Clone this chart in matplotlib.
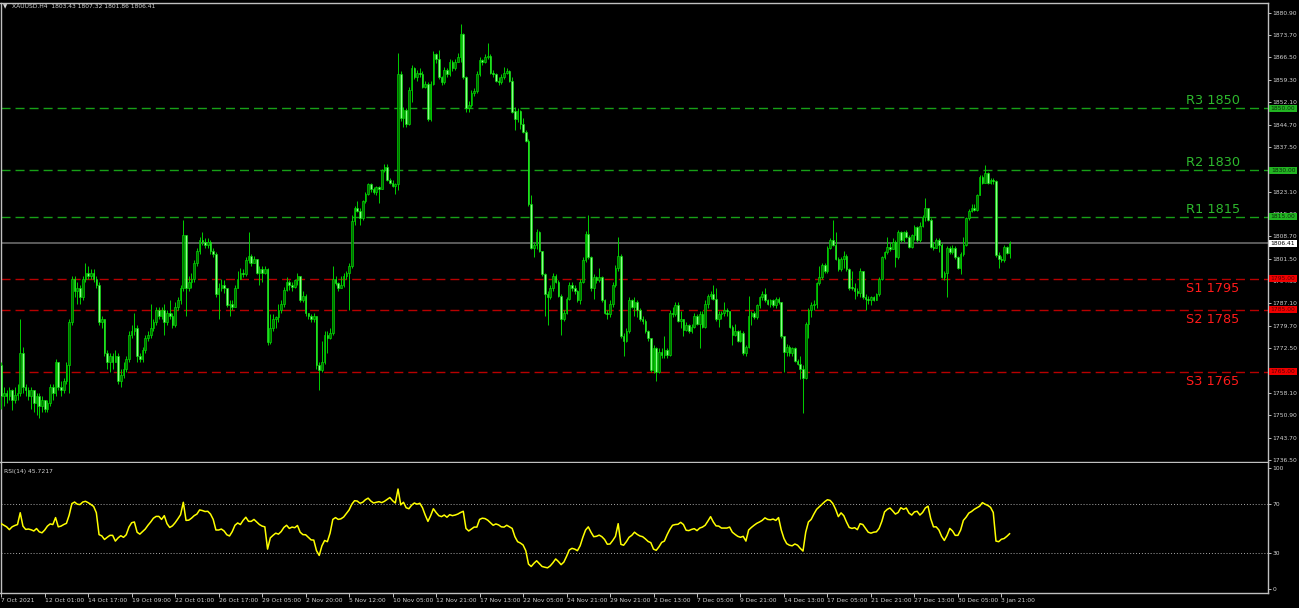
import matplotlib
matplotlib.use("Agg")
import matplotlib.pyplot as plt
import matplotlib.transforms as mtransforms
from matplotlib.patches import Rectangle
import numpy as np

plt.rcParams.update({
    "font.family": ["DejaVu Sans"],
    "figure.facecolor": "black",
    "axes.facecolor": "black",
    "savefig.facecolor": "black",
})

# XAUUSD H4 bars, 7 Oct 2021 -> 4 Jan 2022
symbol = "XAUUSD.H4"
first_open = 1767.0
closes = [
    1757, 1758, 1757, 1759, 1756, 1757.5, 1758, 1771, 1760, 1759,
    1757, 1759, 1755, 1757, 1754, 1756, 1753, 1755, 1760, 1758,
    1768, 1760, 1759, 1762, 1767, 1781, 1795, 1791, 1792, 1789,
    1795, 1797, 1796, 1797, 1795, 1793, 1781, 1782, 1771, 1768,
    1770, 1768, 1770, 1762, 1764, 1766, 1769, 1777, 1778, 1779,
    1770, 1769, 1772, 1776, 1777, 1779, 1781, 1785, 1783, 1785,
    1781, 1784, 1783, 1780, 1786, 1788, 1792, 1809, 1792, 1794,
    1795, 1800, 1804, 1807.5, 1807, 1806, 1807, 1804, 1803, 1790,
    1792, 1793, 1792, 1786.5, 1787, 1786, 1792, 1795, 1797, 1796.5,
    1801, 1802.5, 1800, 1801.5, 1797, 1798, 1797, 1798, 1774.5, 1779,
    1782, 1782.5, 1785, 1787, 1791.5, 1794, 1793, 1792.5, 1794.5, 1796,
    1788, 1789.5, 1784, 1783, 1782, 1783, 1767, 1765.5, 1768, 1777,
    1776, 1777.5, 1795, 1793.5, 1792, 1793, 1796, 1797, 1799, 1813.5,
    1818, 1817, 1814.5, 1820, 1822.5, 1825.5, 1824, 1823, 1824.5, 1824,
    1830, 1831, 1827, 1826, 1825, 1825.5, 1861, 1847, 1849.5, 1845,
    1856, 1863, 1860, 1861.5, 1861, 1857, 1858, 1846.5, 1858, 1867.5,
    1866, 1860, 1858.5, 1862.5, 1861, 1865, 1863, 1865, 1866.5, 1874,
    1860, 1850, 1851, 1855, 1855.5, 1861, 1865.5, 1865, 1866.5, 1867,
    1861.5, 1861, 1859, 1858.5, 1860, 1861.5, 1862, 1859, 1849, 1846.5,
    1849, 1845, 1842.5, 1839.5, 1819, 1805, 1806, 1810, 1804, 1796.5,
    1790, 1789, 1792, 1796, 1794, 1789.5, 1782, 1784, 1788.5, 1793,
    1792, 1791, 1788, 1794, 1801, 1809.5, 1802, 1792, 1795.5, 1794.5,
    1795.5, 1788, 1784, 1783.5, 1787, 1793, 1798.5, 1802.5, 1776.5, 1775,
    1778, 1788, 1786, 1787.5, 1785, 1782, 1781.5, 1778, 1776, 1765.5,
    1772.5, 1765, 1771.5, 1770.5, 1772, 1770.5, 1784, 1783.5, 1786.5, 1781.5,
    1782, 1778.5, 1780, 1778, 1779.5, 1783, 1780.5, 1783.5, 1779.5, 1787,
    1789.5, 1790, 1788.5, 1782, 1783.5, 1784, 1785, 1784.5, 1779.5, 1777,
    1778, 1775, 1777.5, 1771, 1773, 1783, 1784, 1782.5, 1786.5, 1789,
    1790, 1788, 1787, 1788, 1786.5, 1788.5, 1787.5, 1776.5, 1771.5, 1773,
    1771, 1772.5, 1768.5, 1767.5, 1766, 1763, 1780.5, 1785, 1786.5, 1787,
    1793.5, 1795.5, 1799.5, 1797.5, 1805, 1807.5, 1806, 1801.5, 1798, 1801.5,
    1802.5, 1798, 1792, 1792, 1791, 1790.5, 1797.5, 1789, 1788.5, 1788,
    1789, 1788.2, 1790, 1795, 1802, 1803.5, 1805.3, 1804.5, 1807, 1802,
    1810, 1807.5, 1810, 1808.6, 1805.3, 1809, 1811.8, 1807.5, 1812, 1815,
    1817.7, 1814, 1805.3, 1805, 1807.5, 1806, 1795.7, 1796.7, 1805, 1803.5,
    1805, 1802, 1798.5, 1803, 1806, 1814.5, 1817, 1818, 1817.2, 1822,
    1828, 1826, 1829, 1826, 1827, 1826.5, 1802.7, 1801.5, 1801, 1805.3,
    1803.43, 1806.41,
]
highs = [
    1768, 1760, 1759, 1760, 1759.5, 1760, 1761, 1782, 1773, 1761,
    1760, 1760, 1759, 1758, 1758, 1757, 1756, 1756, 1761, 1761,
    1769, 1768, 1762, 1763, 1768, 1782, 1796, 1796, 1794, 1793,
    1796, 1800, 1799, 1798, 1798, 1796, 1794, 1783, 1782, 1772,
    1771, 1771, 1772, 1771, 1766, 1768, 1770, 1778, 1780, 1784,
    1780, 1771, 1773, 1777, 1778, 1787, 1782, 1786, 1786, 1786,
    1787, 1785, 1788, 1784, 1787.5, 1789, 1793, 1814, 1809, 1796,
    1797, 1801, 1805, 1808.5, 1810, 1808, 1808, 1807.5, 1805, 1803.5,
    1793.5, 1795, 1794.5, 1792, 1788, 1788, 1793, 1797.5, 1798.5, 1798,
    1802, 1810, 1803, 1802.5, 1801.5, 1799, 1799, 1799, 1798.5, 1783.5,
    1783.5, 1783, 1787, 1788, 1792.5, 1795.5, 1794.5, 1794, 1795, 1797,
    1796, 1791, 1790, 1784, 1783.5, 1784, 1783, 1768, 1775, 1778,
    1778, 1779, 1799, 1796, 1794, 1796, 1797, 1797.5, 1800, 1815.5,
    1818.5, 1820, 1818, 1820.5, 1823, 1826, 1826, 1824.5, 1825, 1825,
    1830.5, 1832, 1832, 1827.5, 1827, 1826, 1868, 1862, 1850.5, 1850,
    1857, 1864, 1863.5, 1862.5, 1863, 1862, 1859, 1858.5, 1859, 1868.5,
    1868, 1869, 1860.5, 1863.5, 1863, 1866, 1865.5, 1866, 1868, 1877.3,
    1874.5, 1860.5, 1852.5, 1856, 1856.5, 1862, 1866.5, 1866, 1867.5, 1871,
    1867.5, 1862.5, 1861.5, 1860, 1861, 1863.5, 1863, 1862.5, 1860, 1850.5,
    1850, 1849.5, 1847, 1843, 1840, 1822, 1807, 1811, 1810.5, 1804,
    1797, 1791, 1793, 1797, 1796.5, 1794.5, 1790, 1785, 1789, 1794,
    1794, 1793, 1791.5, 1795, 1802, 1810.5, 1815.5, 1802.5, 1796.5, 1796,
    1798.5, 1796, 1788.5, 1785, 1788, 1794, 1799.5, 1808.5, 1803, 1777.5,
    1779, 1789, 1788.5, 1789, 1788, 1785.5, 1783, 1782, 1778.5, 1776,
    1773.5, 1773, 1772.5, 1772.5, 1776.5, 1772.5, 1785, 1786, 1787.5, 1787.5,
    1784.5, 1782, 1781, 1780.5, 1780.5, 1784, 1783.5, 1784.5, 1784.5, 1788,
    1790, 1791, 1793, 1792, 1784.5, 1784.5, 1787.5, 1785.5, 1784.5, 1780,
    1780.5, 1778.5, 1778.5, 1778, 1773.5, 1789.5, 1784.5, 1784.5, 1787, 1789.5,
    1791, 1792, 1788.5, 1788.5, 1788.5, 1789, 1789, 1787.5, 1776.5, 1774,
    1773.5, 1773, 1773, 1769, 1770, 1767, 1781, 1785.5, 1787.5, 1788,
    1794, 1799, 1800, 1800, 1805.5, 1808, 1814, 1810, 1802, 1802,
    1804, 1803, 1798.5, 1797.5, 1793.5, 1792, 1798.5, 1797.5, 1790, 1789.5,
    1789.5, 1789.5, 1790.5, 1795.5, 1802.5, 1804, 1808.5, 1807, 1808, 1807.5,
    1810.7, 1810.5, 1810.5, 1810.7, 1809, 1809.5, 1812.5, 1812, 1813.4, 1815.5,
    1821, 1818, 1814.5, 1806.8, 1808, 1808, 1806.5, 1797.5, 1805.5, 1805.5,
    1806, 1805.5, 1802.5, 1803.5, 1808.6, 1815, 1817.5, 1819, 1819, 1822.5,
    1828.5, 1828.5, 1831.7, 1829.5, 1827.5, 1827.5, 1827, 1803.5, 1802.5, 1806,
    1805.5, 1807.32,
]
lows = [
    1753, 1754, 1755, 1756, 1752.5, 1755, 1756, 1757, 1758, 1757,
    1756, 1753, 1752, 1751, 1750, 1752, 1752, 1752, 1754, 1756,
    1757, 1759, 1757, 1758, 1761, 1758, 1780, 1789, 1787, 1787,
    1788, 1794, 1795, 1795, 1794, 1792, 1780, 1779, 1770, 1766,
    1765, 1766, 1768, 1761, 1760, 1763, 1765, 1768, 1776, 1777,
    1768, 1768, 1768, 1771, 1775, 1776, 1778, 1780, 1782, 1782,
    1777, 1780, 1782, 1779, 1779.5, 1785, 1787, 1791, 1783, 1791,
    1792, 1794, 1799, 1803, 1806, 1805, 1805, 1803, 1802, 1789,
    1782, 1791, 1790.5, 1786, 1783, 1785, 1786, 1792, 1795, 1795.5,
    1796, 1800, 1799, 1800, 1796.5, 1793, 1794, 1796.5, 1773.5, 1774,
    1778, 1779, 1781, 1784, 1786, 1791, 1791.5, 1791, 1792, 1793,
    1787.5, 1787.5, 1783, 1782, 1781, 1781, 1766, 1759, 1765, 1767.5,
    1771, 1775.5, 1777, 1793, 1791, 1792, 1792.5, 1795, 1785, 1798.5,
    1812.5, 1816.5, 1812.3, 1814, 1819.5, 1822, 1823, 1822.5, 1822, 1819.3,
    1824, 1829.5, 1826.5, 1825.5, 1824.5, 1822.5, 1823.5, 1846, 1844, 1844,
    1844.5, 1852, 1859.5, 1859, 1860, 1856.5, 1856.5, 1846, 1846, 1857.5,
    1864.5, 1859.5, 1857.5, 1858, 1860, 1860.5, 1862, 1862.5, 1865, 1865,
    1859.5, 1849, 1849, 1850.5, 1854, 1855, 1860.5, 1864, 1864.5, 1866,
    1861, 1860, 1858.5, 1857.5, 1858, 1859.5, 1861, 1858.5, 1848.5, 1843,
    1845.5, 1843.5, 1842, 1839, 1818.5, 1804.5, 1802, 1804.5, 1803.5, 1796,
    1783, 1780, 1788.5, 1791, 1793.5, 1789, 1777, 1781.5, 1783.5, 1788,
    1791, 1790, 1787.5, 1787, 1793.5, 1800.5, 1801.5, 1791, 1788.5, 1793.5,
    1794, 1787.5, 1783.5, 1782, 1782.5, 1786, 1792.5, 1797.5, 1776, 1770,
    1774.5, 1777.5, 1785.5, 1783, 1782.5, 1781.5, 1780.5, 1777.5, 1775, 1765,
    1764.5, 1762, 1764.5, 1769.5, 1769.5, 1769.5, 1770, 1782.5, 1783, 1781,
    1779, 1776.5, 1778, 1777.5, 1777.5, 1779, 1780, 1772.5, 1779, 1779,
    1785.5, 1788.5, 1788, 1781.5, 1779.5, 1782, 1783, 1783, 1779, 1773.5,
    1776.5, 1774.5, 1774.5, 1770.5, 1770, 1772.5, 1780, 1782, 1782, 1785.5,
    1788, 1787.5, 1786.5, 1786, 1786, 1785.5, 1787, 1776, 1765, 1770,
    1770, 1770, 1768, 1767, 1762.5, 1751.5, 1762.5, 1776, 1782.5, 1785,
    1785.5, 1793, 1795, 1797, 1797, 1804.5, 1805.5, 1801, 1797.5, 1797.5,
    1798.5, 1797.5, 1791.5, 1791.5, 1788.5, 1789.5, 1789, 1788.5, 1785, 1787,
    1786.5, 1787.8, 1788, 1789.5, 1794.5, 1801.5, 1803, 1804, 1804.5, 1798.9,
    1801.5, 1807, 1807, 1808, 1805, 1805, 1807.5, 1807, 1807, 1811.8,
    1813.5, 1813.5, 1805, 1804.3, 1804.8, 1803.5, 1795.2, 1794.5, 1789.2, 1803,
    1803, 1801.5, 1798, 1796.5, 1802.5, 1805.5, 1814, 1816.5, 1816.8, 1817,
    1822, 1825.5, 1825.8, 1825.5, 1825.5, 1825.5, 1802, 1798.4, 1800.5, 1800.5,
    1803, 1801.86,
]
rsi14 = [
    54, 52.7, 51.4, 49.1, 51.4, 52.5, 53.3, 63, 52, 49.3,
    49.6, 49, 48, 50, 47.3, 46.5, 48.8, 52, 53.8, 53.3,
    59, 51.4, 52, 53.3, 54.3, 61, 70.5, 71.8, 70, 69.7,
    71.8, 72.4, 71.3, 69.7, 68.2, 63, 45, 44, 41, 42.8,
    44.4, 44.4, 39.7, 42.3, 44.1, 42.8, 44.9, 51.2, 54.8, 55.4,
    47, 45.4, 47.5, 49.6, 52.7, 55.4, 58.5, 60, 60, 57.5,
    60.6, 54, 50.9, 52.2, 54.8, 58, 61.4, 71.6, 56.7, 56.9,
    58.5, 60.6, 61.9, 65.3, 64.8, 64, 64.2, 61.9, 57.5, 48.8,
    48.8, 49.6, 48, 44.9, 43.9, 47.5, 52.7, 54.6, 53.3, 56.7,
    59.3, 55.9, 55.9, 57.5, 55.4, 53.3, 52, 51.4, 33.1, 42.3,
    44.4, 46.2, 45.4, 47.5, 50.9, 52.7, 50.1, 51.2, 50.7, 52.5,
    47, 45, 44.9, 42.8, 40.7, 40.5, 31.8, 27.9, 35.8, 40.2,
    39.2, 46.2, 57.5, 59, 57.5, 58, 59.5, 62.4, 65.3, 70,
    72.9, 72.6, 70.8, 71.6, 73.7, 75, 72.6, 71, 71.6, 72.1,
    71.3, 72.4, 73.9, 75.5, 72.9, 71, 82.5, 69.5, 71.6, 67.1,
    66.3, 69.2, 71, 70, 70.8, 67.1, 61.1, 55.9, 60.6, 66.3,
    63.2, 60.6, 59.8, 61.1, 59.3, 61.4, 60.6, 61.1, 61.9, 63.2,
    64.2, 50.1, 48, 49.6, 51.2, 51.2, 57.5, 58.5, 58.2, 56.9,
    54.8, 52.7, 53.8, 53, 51.4, 51.2, 52.7, 51.4, 50.1, 43.3,
    39.2, 38.1, 36.5, 31.8, 20.8, 18.8, 21.4, 23.5, 21.1, 18.8,
    18.2, 17.7, 19.3, 21.9, 25, 22.9, 20.3, 22.4, 27.1, 32.4,
    33.7, 33.1, 31.8, 35.8, 42.8, 48.8, 51.4, 47, 43.3, 43.6,
    44.6, 43.3, 41, 37.1, 37.3, 40.2, 43.6, 54, 37, 36.3,
    39.2, 42.8, 44.4, 47, 45.2, 43.9, 43.3, 41.5, 39.4, 38.4,
    33.1, 32.1, 35, 38.6, 39.7, 44.9, 49.3, 52.7, 53.3, 53.5,
    55.1, 53.3, 48.6, 48.3, 49.3, 49.9, 48.3, 50.4, 51.2, 52.7,
    56.1, 59.8, 55.4, 52.2, 52, 50.4, 50.4, 50.4, 51.2, 47,
    45.2, 43.6, 42.8, 43.6, 39.7, 48.8, 50.9, 52.7, 54.3, 55.4,
    56.7, 58.8, 57.5, 57.2, 57.8, 56.7, 59, 48.8, 41.8, 37.6,
    36.3, 35.8, 37.3, 36.3, 33.7, 31.5, 47, 55.4, 57.5, 61.9,
    65.8, 67.9, 70, 72.1, 73.7, 73.1, 70.5, 65.8, 59.8, 62.9,
    60.6, 55.4, 50.9, 50.1, 50.7, 49.1, 54, 53.3, 50.1, 47,
    46.2, 47, 47.3, 50.1, 55.9, 63.7, 65.8, 66.9, 64.5, 61.9,
    63.2, 67.1, 65.8, 66.9, 62.7, 61.1, 63.7, 64.2, 61.1, 63.2,
    66.9, 68.4, 58, 51.4, 51.4, 48.8, 43.6, 40.2, 44.4, 50.1,
    48, 44.4, 44.4, 48.8, 56.7, 59.3, 62.7, 64, 65.8, 67.1,
    68.4, 71.3, 70, 69, 67.4, 63.2, 39.7, 39.2, 41.2, 41.8,
    43.6, 45.7217,
]

level_names = ["R3", "R2", "R1", "S1", "S2", "S3"]
level_prices = [1850, 1830, 1815, 1795, 1785, 1765]
last_bar = [1803.43, 1807.32, 1801.86, 1806.41]
price_ticks = [1880.9, 1873.7, 1866.5, 1859.3, 1852.1, 1844.7, 1837.5, 1830.3,
               1823.1, 1815.9, 1808.7, 1801.5, 1794.3, 1787.1, 1779.7, 1772.5,
               1765.3, 1758.1, 1750.9, 1743.7, 1736.5]
rsi_ticks = [0, 30, 70, 100]
time_labels = ["7 Oct 2021", "12 Oct 01:00", "14 Oct 17:00", "19 Oct 09:00",
               "22 Oct 01:00", "26 Oct 17:00", "29 Oct 05:00", "2 Nov 20:00",
               "5 Nov 12:00", "10 Nov 05:00", "12 Nov 21:00", "17 Nov 13:00",
               "22 Nov 05:00", "24 Nov 21:00", "29 Nov 21:00", "2 Dec 13:00",
               "7 Dec 05:00", "9 Dec 21:00", "14 Dec 13:00", "17 Dec 05:00",
               "21 Dec 21:00", "27 Dec 13:00", "30 Dec 05:00", "3 Jan 21:00"]
bars_per_label = 16

assert len(closes) == len(highs) == len(lows) == len(rsi14)

W, H = 1299, 608
fig = plt.figure(figsize=(W / 100, H / 100), dpi=100)


def px_axes(left, top, right, bottom):
    return fig.add_axes([left / W, 1 - bottom / H, (right - left) / W, (bottom - top) / H])


ax = px_axes(0.5, 3, 1267.5, 461.5)
ax_rsi = px_axes(0.5, 463, 1267.5, 593)

c = np.array(closes, dtype=float)
h = np.array(highs, dtype=float)
l = np.array(lows, dtype=float)
o = np.r_[first_open, c[:-1]]
x = np.arange(len(c))

grey = "#c0c0c0"
label_c = "#d4d4d4"
small = 4.3

# candles
bull = c > o
body_lo = np.minimum(o, c)
body_h = np.maximum(np.abs(c - o), 0.3)
ax.vlines(x, l, h, color="#00d000", lw=0.7, zorder=3)
ax.bar(x[bull], body_h[bull], bottom=body_lo[bull], width=0.6,
       color="#007000", edgecolor="#00e000", lw=0.45, zorder=4)
ax.bar(x[~bull], body_h[~bull], bottom=body_lo[~bull], width=0.6,
       color="#8cff8c", edgecolor="#00e000", lw=0.45, zorder=4)

ax.set_xlim(-0.26, 465.9)
ax.set_ylim(1736.0, 1884.03)
ax_rsi.set_xlim(-0.26, 465.9)
ax_rsi.set_ylim(-3.0, 103.9)

blend = mtransforms.blended_transform_factory(ax.transAxes, ax.transData)


def tag(axis, tr, y, text, fc, tc, h_units):
    axis.add_patch(Rectangle((1.0015, y - h_units / 2), 0.0216, h_units, transform=tr,
                             fc=fc, ec="none", clip_on=False, zorder=6))
    axis.text(1.0015 + 0.0108, y, text, transform=tr, ha="center", va="center",
              fontsize=small, color=tc, clip_on=False, zorder=7)


# current price line
ax.axhline(last_bar[3], color="#6a6a6a", lw=1.2, zorder=2)

for name, p in zip(level_names, level_prices):
    resist = name.startswith("R")
    line_c = "#17a017" if resist else "#b80000"
    text_c = "#2db82d" if resist else "#ff1a1a"
    ax.axhline(p, color=line_c, lw=1, ls=(0, (6.5, 3.6)), zorder=2)
    ax.annotate(f"{name} {p}", xy=(0.9357, p), xycoords=blend,
                xytext=(0, 2.9 if resist else -9.3), textcoords="offset points",
                va="baseline", ha="left", fontsize=9.3, color=text_c, zorder=5)
    tag(ax, blend, p, f"{p:.2f}", "#22b422" if resist else "#f00000",
        "#0b2a0b" if resist else "#5a0000", 2.36)

tag(ax, blend, last_bar[3], f"{last_bar[3]:.2f}", "white", "black", 2.36)

# RSI panel
ax_rsi.plot(x, rsi14, color="#ffff00", lw=1.1, zorder=3)
for v in (30, 70):
    ax_rsi.axhline(v, color="#a8a8a8", lw=0.7, ls=(0, (1, 2)), zorder=2)
ax_rsi.text(0.003, 0.955, f"RSI(14) {rsi14[-1]:.4f}", transform=ax_rsi.transAxes,
            ha="left", va="top", fontsize=small, color=label_c)

# axes cosmetics
for a in (ax, ax_rsi):
    for s in a.spines.values():
        s.set_color(grey)
        s.set_linewidth(1)
    a.yaxis.tick_right()
    a.tick_params(axis="y", colors=grey, labelcolor=label_c, labelsize=small,
                  length=2.2, width=0.7, pad=1.5)
ax_rsi.spines["top"].set_visible(False)

ax.set_yticks(price_ticks)
ax.set_yticklabels([f"{t:.2f}" for t in price_ticks])
ax.set_xticks([])

ax_rsi.set_yticks(rsi_ticks)
ax_rsi.set_yticklabels([str(t) for t in rsi_ticks])

tick_pos = np.arange(len(time_labels)) * bars_per_label
ax_rsi.set_xticks(tick_pos)
ax_rsi.set_xticklabels(time_labels)
ax_rsi.tick_params(axis="x", colors=grey, labelcolor=label_c, labelsize=small,
                   length=2.8, width=0.7, pad=0.8, direction="out")
for t in ax_rsi.get_xticklabels():
    t.set_ha("left")

# header
fig.text(3 / W, 1 - 7 / H, "\u25bc", fontsize=4, color=label_c, va="center", ha="left")
fig.text(12 / W, 1 - 7 / H,
         f"{symbol}  " + " ".join(f"{v:.2f}" for v in last_bar),
         fontsize=small, color=label_c, va="center", ha="left")

fig.savefig("out.png", dpi=100)
